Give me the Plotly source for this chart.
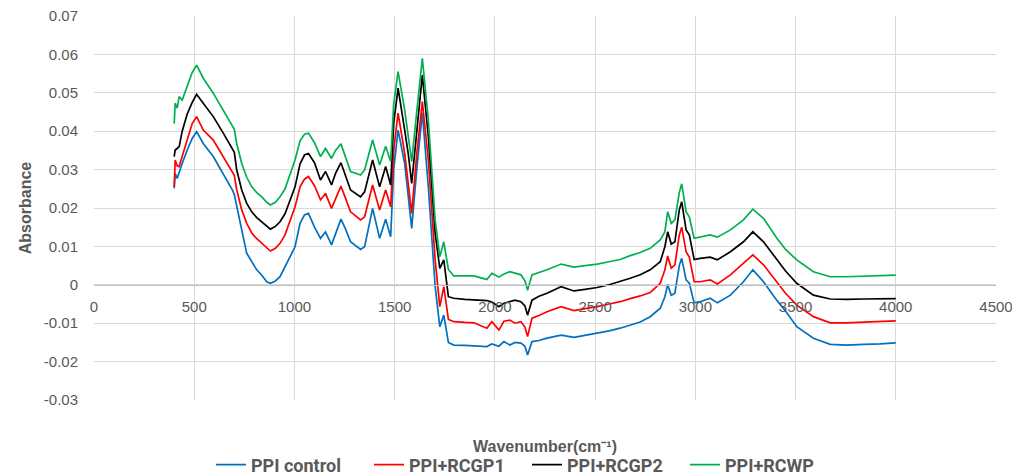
import plotly.graph_objects as go

wavenumber = [400, 405, 415, 425, 440, 465, 490, 512, 545, 595, 645, 690, 700, 712, 737, 762, 787, 812, 837, 862, 880, 905, 928, 953, 978, 1003, 1028, 1050, 1070, 1100, 1130, 1155, 1185, 1205, 1232, 1255, 1280, 1330, 1350, 1390, 1425, 1455, 1480, 1495, 1517, 1550, 1568, 1585, 1610, 1638, 1668, 1702, 1725, 1745, 1768, 1795, 1850, 1895, 1960, 1985, 2020, 2045, 2075, 2100, 2130, 2150, 2163, 2185, 2220, 2260, 2330, 2395, 2450, 2510, 2570, 2625, 2675, 2725, 2775, 2825, 2848, 2862, 2880, 2898, 2920, 2932, 2954, 2970, 2994, 3024, 3074, 3110, 3175, 3240, 3287, 3340, 3406, 3450, 3506, 3589, 3673, 3756, 3840, 3922, 4000]

ppi_control = [0.0251, 0.0290, 0.0277, 0.0295, 0.0316, 0.0351, 0.0381, 0.0399, 0.0368, 0.0334, 0.0290, 0.0247, 0.0235, 0.0203, 0.0143, 0.0082, 0.0060, 0.0039, 0.0025, 0.0008, 0.0004, 0.0010, 0.0021, 0.0047, 0.0070, 0.0099, 0.0160, 0.0182, 0.0186, 0.0150, 0.0121, 0.0138, 0.0104, 0.0135, 0.0171, 0.0145, 0.0112, 0.0092, 0.0099, 0.0199, 0.0121, 0.0171, 0.0125, 0.0300, 0.0403, 0.0316, 0.0220, 0.0147, 0.0300, 0.0448, 0.0255, -0.0005, -0.0109, -0.0079, -0.0150, -0.0157, -0.0158, -0.0159, -0.0161, -0.0154, -0.0160, -0.0148, -0.0157, -0.0150, -0.0152, -0.0160, -0.0183, -0.0148, -0.0145, -0.0139, -0.0131, -0.0137, -0.0132, -0.0126, -0.0120, -0.0113, -0.0105, -0.0097, -0.0083, -0.0061, -0.0031, 0.0000, -0.0027, -0.0022, 0.0050, 0.0069, 0.0013, 0.0004, -0.0047, -0.0044, -0.0035, -0.0047, -0.0027, 0.0008, 0.0039, 0.0008, -0.0040, -0.0068, -0.0109, -0.0139, -0.0155, -0.0157, -0.0155, -0.0154, -0.0151]

ppi_rcgp1 = [0.0255, 0.0325, 0.0310, 0.0308, 0.0335, 0.0380, 0.0420, 0.0438, 0.0403, 0.0377, 0.0334, 0.0295, 0.0285, 0.0247, 0.0195, 0.0160, 0.0135, 0.0120, 0.0108, 0.0095, 0.0088, 0.0095, 0.0108, 0.0130, 0.0165, 0.0203, 0.0255, 0.0275, 0.0282, 0.0258, 0.0221, 0.0238, 0.0199, 0.0225, 0.0257, 0.0225, 0.0190, 0.0169, 0.0177, 0.0260, 0.0195, 0.0247, 0.0203, 0.0350, 0.0447, 0.0342, 0.0264, 0.0186, 0.0340, 0.0477, 0.0325, 0.0065, -0.0057, -0.0005, -0.0090, -0.0096, -0.0098, -0.0099, -0.0113, -0.0096, -0.0118, -0.0095, -0.0092, -0.0100, -0.0096, -0.0110, -0.0135, -0.0087, -0.0080, -0.0070, -0.0057, -0.0067, -0.0062, -0.0057, -0.0050, -0.0044, -0.0036, -0.0029, -0.0020, 0.0004, 0.0039, 0.0075, 0.0043, 0.0052, 0.0130, 0.0150, 0.0086, 0.0072, 0.0008, 0.0008, 0.0013, 0.0002, 0.0026, 0.0056, 0.0078, 0.0052, 0.0008, -0.0022, -0.0053, -0.0083, -0.0099, -0.0099, -0.0097, -0.0096, -0.0094]

ppi_rcgp2 = [0.0334, 0.0351, 0.0355, 0.0360, 0.0400, 0.0445, 0.0475, 0.0496, 0.0473, 0.0438, 0.0395, 0.0355, 0.0345, 0.0299, 0.0247, 0.0212, 0.0190, 0.0175, 0.0164, 0.0152, 0.0145, 0.0152, 0.0164, 0.0185, 0.0220, 0.0255, 0.0315, 0.0338, 0.0342, 0.0318, 0.0273, 0.0295, 0.0260, 0.0290, 0.0318, 0.0285, 0.0247, 0.0229, 0.0242, 0.0325, 0.0255, 0.0308, 0.0260, 0.0420, 0.0512, 0.0403, 0.0340, 0.0264, 0.0400, 0.0546, 0.0386, 0.0134, 0.0043, 0.0065, -0.0031, -0.0035, -0.0038, -0.0040, -0.0041, -0.0045, -0.0057, -0.0048, -0.0044, -0.0040, -0.0044, -0.0055, -0.0079, -0.0040, -0.0030, -0.0022, -0.0005, -0.0016, -0.0012, -0.0007, 0.0000, 0.0008, 0.0017, 0.0026, 0.0039, 0.0060, 0.0099, 0.0138, 0.0106, 0.0112, 0.0195, 0.0216, 0.0143, 0.0130, 0.0066, 0.0069, 0.0072, 0.0065, 0.0086, 0.0112, 0.0138, 0.0112, 0.0066, 0.0036, 0.0004, -0.0027, -0.0037, -0.0038, -0.0037, -0.0036, -0.0036]

ppi_rcwp = [0.0420, 0.0473, 0.0460, 0.0490, 0.0481, 0.0516, 0.0553, 0.0572, 0.0538, 0.0499, 0.0455, 0.0415, 0.0405, 0.0368, 0.0316, 0.0280, 0.0255, 0.0240, 0.0229, 0.0215, 0.0208, 0.0215, 0.0229, 0.0250, 0.0285, 0.0325, 0.0375, 0.0392, 0.0395, 0.0370, 0.0334, 0.0355, 0.0329, 0.0350, 0.0367, 0.0335, 0.0295, 0.0286, 0.0299, 0.0377, 0.0312, 0.0361, 0.0321, 0.0470, 0.0555, 0.0455, 0.0390, 0.0321, 0.0450, 0.0590, 0.0429, 0.0169, 0.0073, 0.0112, 0.0040, 0.0023, 0.0023, 0.0023, 0.0014, 0.0030, 0.0020, 0.0028, 0.0034, 0.0030, 0.0026, 0.0010, -0.0014, 0.0026, 0.0032, 0.0039, 0.0054, 0.0046, 0.0050, 0.0054, 0.0060, 0.0066, 0.0076, 0.0084, 0.0095, 0.0117, 0.0138, 0.0190, 0.0160, 0.0169, 0.0240, 0.0263, 0.0190, 0.0177, 0.0121, 0.0125, 0.0130, 0.0124, 0.0143, 0.0169, 0.0197, 0.0173, 0.0122, 0.0092, 0.0065, 0.0034, 0.0021, 0.0021, 0.0022, 0.0023, 0.0025]

series_names = ["PPI control", "PPI+RCGP1", "PPI+RCGP2", "PPI+RCWP"]
series_values = [ppi_control, ppi_rcgp1, ppi_rcgp2, ppi_rcwp]
series_colors = ["#0070C0", "#FF0000", "#000000", "#00B050"]

x_ticks = [0, 500, 1000, 1500, 2000, 2500, 3000, 3500, 4000, 4500]
y_ticks = [-0.03, -0.02, -0.01, 0, 0.01, 0.02, 0.03, 0.04, 0.05, 0.06, 0.07]
y_tick_labels = ["-0.03", "-0.02", "-0.01", "0", "0.01", "0.02", "0.03", "0.04", "0.05", "0.06", "0.07"]

FONT = "Liberation Sans"
LEGFONT = "Roboto"
GREY = "#595959"
GRID = "#d9d9d9"

fig = go.Figure()
for name, vals, col in zip(series_names, series_values, series_colors):
    fig.add_trace(go.Scatter(x=wavenumber, y=vals, mode="lines", name=name,
                             line=dict(color=col, width=1.7)))

# page body has an 8px margin, so the figure is placed from (8,8); plot area lands at 94..996 x 16..400
W, H = 1012, 476
fig.update_layout(
    width=W, height=H,
    margin=dict(l=86, r=24, t=8, b=84, autoexpand=False),
    paper_bgcolor="white", plot_bgcolor="white",
    font=dict(family=FONT, color=GREY, size=15),
    showlegend=True,
    legend=dict(orientation="h", x=203 / W, xanchor="left", xref="container",
                y=(H - 457) / H, yanchor="middle", yref="container",
                entrywidth=113, entrywidthmode="pixels",
                font=dict(size=18, color=GREY, family=LEGFONT, weight="bold"),
                itemwidth=30, tracegroupgap=0),
    xaxis=dict(range=[0, 4500], tickvals=x_ticks, showgrid=True, gridcolor=GRID, gridwidth=1,
               zeroline=False, showline=True, linecolor="#bfbfbf", linewidth=1,
               anchor="free", position=0.3, ticks="", ticklabelstandoff=8, automargin=False,
               ticklabeloverflow="allow",
               tickfont=dict(size=15, color=GREY, family=FONT)),
    yaxis=dict(range=[-0.03, 0.0700001], tickvals=y_ticks, ticktext=y_tick_labels,
               showgrid=True, gridcolor=GRID, gridwidth=1, zeroline=False, showline=False,
               ticks="", ticklabelstandoff=15, automargin=False, ticklabeloverflow="allow",
               tickfont=dict(size=15, color=GREY, family=FONT),
               title=dict(text="<b>Absorbance</b>", font=dict(size=16, color=GREY, family=FONT), standoff=8)),
)
fig.add_annotation(text="<b>Wavenumber(cm⁻¹)</b>", xref="paper", yref="paper", x=0.5, y=-0.122,
                   xanchor="center", yanchor="middle", showarrow=False,
                   font=dict(size=16, color=GREY, family=FONT))

fig.write_html("out.html")
